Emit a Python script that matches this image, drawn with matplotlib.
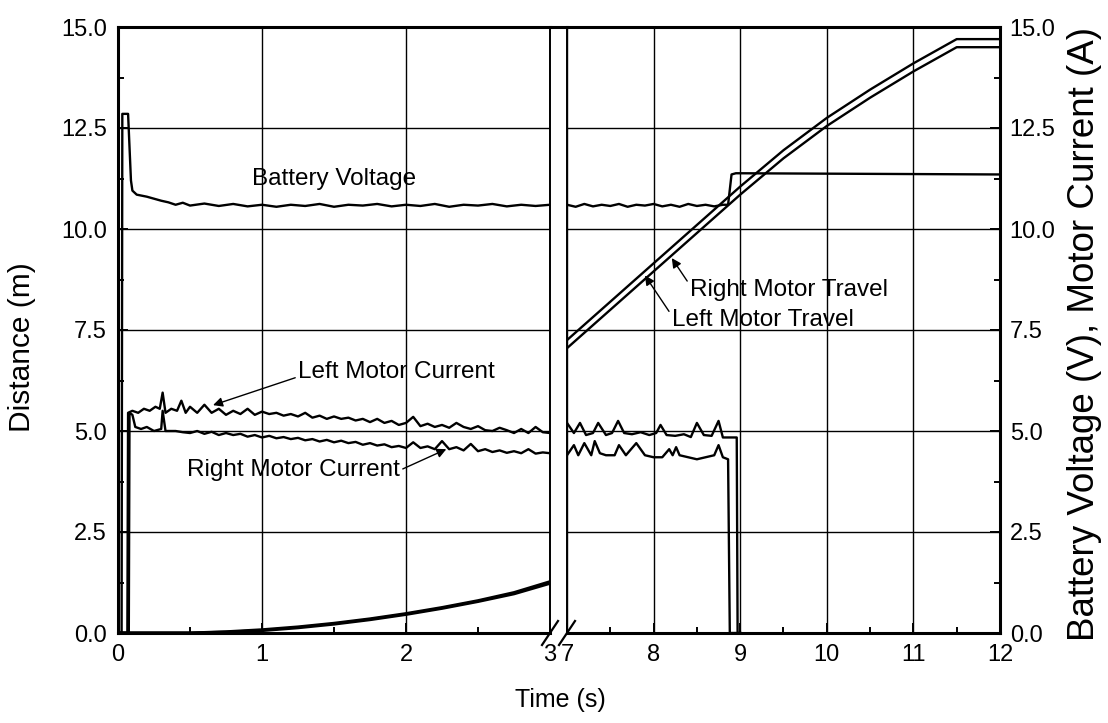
import matplotlib
matplotlib.use("Agg")
import matplotlib.pyplot as plt
from matplotlib.lines import Line2D

plt.rcParams['font.family'] = ['Liberation Sans', 'DejaVu Sans']

# ---- data (time in s) ----
# battery voltage, before the axis break
batt_t1 = [0.0, 0.025, 0.03, 0.07, 0.09, 0.1, 0.13, 0.2, 0.25, 0.3, 0.35, 0.4, 0.45, 0.5,
           0.6, 0.7, 0.8, 0.9, 1.0, 1.1, 1.2, 1.3, 1.4, 1.5, 1.6, 1.7, 1.8, 1.9, 2.0,
           2.1, 2.2, 2.3, 2.4, 2.5, 2.6, 2.7, 2.8, 2.9, 3.0]
batt_v1 = [0.0, 0.0, 12.85, 12.85, 11.2, 10.95, 10.85, 10.8, 10.75, 10.7, 10.66, 10.6, 10.65, 10.58,
           10.63, 10.57, 10.62, 10.56, 10.6, 10.55, 10.6, 10.57, 10.62, 10.55, 10.6, 10.58, 10.62, 10.56, 10.6,
           10.57, 10.62, 10.55, 10.6, 10.58, 10.62, 10.56, 10.6, 10.57, 10.6]
# battery voltage, after the break
batt_t2 = [7.0, 7.1, 7.2, 7.3, 7.4, 7.5, 7.6, 7.7, 7.8, 7.9, 8.0, 8.1, 8.2, 8.3, 8.4, 8.5,
           8.6, 8.7, 8.8, 8.86, 8.9, 8.95, 12.0]
batt_v2 = [10.6, 10.55, 10.62, 10.56, 10.6, 10.57, 10.62, 10.55, 10.6, 10.58, 10.62, 10.56, 10.6, 10.55, 10.62, 10.57,
           10.6, 10.56, 10.6, 10.6, 11.35, 11.38, 11.35]

# left motor current
lcur_t1 = [0.0, 0.065, 0.07, 0.1, 0.14, 0.18, 0.22, 0.26, 0.29, 0.31, 0.33, 0.37, 0.41, 0.44, 0.47,
           0.5, 0.55, 0.6, 0.65, 0.7, 0.75, 0.8, 0.85, 0.9, 0.95, 1.0, 1.05, 1.1, 1.15, 1.2, 1.25,
           1.3, 1.35, 1.4, 1.45, 1.5, 1.55, 1.6, 1.65, 1.7, 1.75, 1.8, 1.85, 1.9, 1.95, 2.0, 2.05,
           2.1, 2.15, 2.2, 2.25, 2.3, 2.35, 2.4, 2.45, 2.5, 2.55, 2.6, 2.65, 2.7, 2.75, 2.8, 2.85,
           2.9, 2.95, 3.0]
lcur_v1 = [0.0, 0.0, 5.45, 5.5, 5.45, 5.55, 5.5, 5.6, 5.55, 5.95, 5.45, 5.55, 5.5, 5.75, 5.45,
           5.6, 5.45, 5.65, 5.45, 5.55, 5.4, 5.5, 5.42, 5.55, 5.4, 5.48, 5.42, 5.45, 5.38, 5.42, 5.36,
           5.45, 5.33, 5.38, 5.3, 5.36, 5.3, 5.33, 5.26, 5.3, 5.22, 5.3, 5.2, 5.25, 5.15, 5.2, 5.35,
           5.12, 5.18, 5.1, 5.15, 5.08, 5.2, 5.1, 5.05, 5.12, 5.02, 5.0, 5.08, 5.02, 4.95, 5.05, 4.95,
           5.1, 4.97, 4.95]
lcur_t2 = [7.0, 7.08, 7.15, 7.22, 7.3, 7.36, 7.45, 7.52, 7.59, 7.66, 7.75, 7.85, 7.95, 8.03, 8.08,
           8.15, 8.25, 8.35, 8.43, 8.5, 8.58, 8.67, 8.75, 8.8, 8.85, 8.96, 8.97, 9.0]
lcur_v2 = [5.2, 4.95, 5.2, 4.9, 4.95, 5.2, 4.9, 4.95, 5.25, 4.95, 4.92, 4.97, 4.9, 4.95, 5.15,
           4.9, 4.88, 4.92, 4.85, 5.2, 4.9, 4.88, 5.25, 4.84, 4.84, 4.84, 0.0, 0.0]

# right motor current
rcur_t1 = [0.0, 0.075, 0.08, 0.1, 0.12, 0.16, 0.2, 0.25, 0.3, 0.31, 0.33, 0.4, 0.45,
           0.5, 0.55, 0.6, 0.65, 0.7, 0.75, 0.8, 0.85, 0.9, 0.95, 1.0, 1.05, 1.1, 1.15, 1.2, 1.25,
           1.3, 1.35, 1.4, 1.45, 1.5, 1.55, 1.6, 1.65, 1.7, 1.75, 1.8, 1.85, 1.9, 1.95, 2.0, 2.05,
           2.1, 2.15, 2.2, 2.25, 2.3, 2.35, 2.4, 2.45, 2.5, 2.55, 2.6, 2.65, 2.7, 2.75, 2.8, 2.85,
           2.9, 2.95, 3.0]
rcur_v1 = [0.0, 0.0, 5.45, 5.4, 5.1, 5.05, 5.1, 5.0, 5.05, 5.5, 5.0, 5.0, 4.97,
           4.95, 5.0, 4.93, 4.98, 4.9, 4.95, 4.9, 4.93, 4.86, 4.9, 4.84, 4.88, 4.82, 4.85, 4.8, 4.83,
           4.77, 4.8, 4.74, 4.78, 4.72, 4.76, 4.7, 4.73, 4.66, 4.7, 4.64, 4.67, 4.6, 4.63, 4.58, 4.72,
           4.58, 4.62, 4.55, 4.75, 4.55, 4.6, 4.52, 4.68, 4.5, 4.55, 4.48, 4.52, 4.46, 4.5, 4.45, 4.55,
           4.44, 4.47, 4.45]
rcur_t2 = [7.0, 7.08, 7.13, 7.2, 7.28, 7.32, 7.38, 7.45, 7.55, 7.6, 7.68, 7.8, 7.9, 8.0, 8.1,
           8.18, 8.22, 8.26, 8.3, 8.4, 8.5, 8.6, 8.7, 8.75, 8.8, 8.86, 8.88, 9.0]
rcur_v2 = [4.4, 4.65, 4.4, 4.7, 4.4, 4.75, 4.45, 4.4, 4.4, 4.65, 4.4, 4.7, 4.4, 4.35, 4.35,
           4.55, 4.4, 4.6, 4.4, 4.35, 4.3, 4.35, 4.4, 4.65, 4.35, 4.3, 0.0, 0.0]

# motor travel (distance)
trav_t1 = [0.0, 0.5, 0.75, 1.0, 1.25, 1.5, 1.75, 2.0, 2.25, 2.5, 2.75, 3.0]
ltrav_d1 = [0.0, 0.0, 0.03, 0.08, 0.15, 0.24, 0.35, 0.48, 0.63, 0.8, 1.0, 1.27]
rtrav_d1 = [0.0, 0.0, 0.02, 0.06, 0.13, 0.22, 0.33, 0.46, 0.61, 0.78, 0.97, 1.23]
trav_t2 = [7.0, 7.5, 8.0, 8.5, 9.0, 9.5, 10.0, 10.5, 11.0, 11.5, 12.0]
ltrav_d2 = [7.25, 8.2, 9.15, 10.1, 11.05, 11.95, 12.75, 13.45, 14.1, 14.7, 14.7]
rtrav_d2 = [7.05, 8.0, 8.95, 9.9, 10.85, 11.75, 12.55, 13.25, 13.9, 14.5, 14.5]

yticks = [0.0, 2.5, 5.0, 7.5, 10.0, 12.5, 15.0]
yminor = [1.25, 3.75, 6.25, 8.75, 11.25, 13.75]

W, H = 1108, 723
left, gap_l, gap_r, right = 118 / W, 550 / W, 567 / W, 1000 / W
bottom, top = 1 - 633 / H, 1 - 27 / H

fig = plt.figure(figsize=(W / 100, H / 100), dpi=100)
ax1 = fig.add_axes([left, bottom, gap_l - left, top - bottom])
ax2 = fig.add_axes([gap_r, bottom, right - gap_r, top - bottom])
ax2r = ax2.twinx()

lw = 1.7
ax1.plot(batt_t1, batt_v1, color='black', lw=lw)
ax1.plot(lcur_t1, lcur_v1, color='black', lw=lw)
ax1.plot(rcur_t1, rcur_v1, color='black', lw=lw)
ax1.plot(trav_t1, ltrav_d1, color='black', lw=2.2)
ax1.plot(trav_t1, rtrav_d1, color='black', lw=2.2)

ax2.plot(batt_t2, batt_v2, color='black', lw=lw)
ax2.plot(lcur_t2, lcur_v2, color='black', lw=lw)
ax2.plot(rcur_t2, rcur_v2, color='black', lw=lw)
ax2.plot(trav_t2, ltrav_d2, color='black', lw=lw)
ax2.plot(trav_t2, rtrav_d2, color='black', lw=lw)

ax1.set_xlim(0, 3)
ax2.set_xlim(7, 12)
ax1.set_xticks([0, 1, 2, 3])
ax1.set_xticks([0.5, 1.5, 2.5], minor=True)
ax2.set_xticks([7, 8, 9, 10, 11, 12])
ax2.set_xticks([7.5, 8.5, 9.5, 10.5, 11.5], minor=True)

for ax in (ax1, ax2, ax2r):
    ax.set_ylim(0, 15)
    ax.set_yticks(yticks)
    ax.set_yticks(yminor, minor=True)

ax1.set_yticklabels([f'{v:.1f}' for v in yticks])
ax2r.set_yticklabels([f'{v:.1f}' for v in yticks])

for ax in (ax1, ax2):
    ax.grid(True, which='major', color='black', lw=1.0)
    ax.tick_params(which='both', direction='in', labelsize=17, width=1.4)
    ax.tick_params(which='major', length=7, pad=8)
    ax.tick_params(which='minor', length=4)
    for s in ax.spines.values():
        s.set_linewidth(2.2)
ax1.tick_params(which='both', right=False, top=False)
ax1.spines['right'].set_linewidth(1.4)
ax2.tick_params(which='both', left=False, right=False, top=False, labelleft=False)
ax2.spines['left'].set_linewidth(1.4)
ax2r.tick_params(which='both', direction='in', labelsize=17, width=1.4, pad=7)
ax2r.tick_params(which='major', length=7)
ax2r.tick_params(which='minor', length=4)
for s in ax2r.spines.values():
    s.set_visible(False)

# top frame continues across the gap
fig.add_artist(Line2D([gap_l, gap_r], [top, top], transform=fig.transFigure, color='black', lw=2.2))

# break marks on the time axis
for ax, xa in ((ax1, 1.0), (ax2, 0.0)):
    dx = 8 / (ax.get_position().width * W)
    dy = 12 / ((top - bottom) * H)
    ax.plot([xa - dx, xa + dx], [-dy, dy], transform=ax.transAxes, color='black', lw=1.6, clip_on=False)

arrow = dict(arrowstyle='-|>', color='black', lw=1.0, mutation_scale=14, shrinkA=0, shrinkB=0)
ax1.text(1.5, 11.25, 'Battery Voltage', fontsize=17.5, ha='center', va='center')
ax1.annotate('Left Motor Current', xy=(0.66, 5.64), xytext=(1.25, 6.45), fontsize=17.5,
             ha='left', va='center', arrowprops=dict(arrow, relpos=(0, 0.3)))
ax1.annotate('Right Motor Current', xy=(2.28, 4.55), xytext=(0.48, 4.03), fontsize=17.5,
             ha='left', va='center', arrowprops=dict(arrow, relpos=(1, 0.5)))
ax2.annotate('Right Motor Travel', xy=(8.21, 9.28), xytext=(8.42, 8.5), fontsize=17.5,
             ha='left', va='center', arrowprops=dict(arrow, relpos=(0, 0.7)))
ax2.annotate('Left Motor Travel', xy=(7.9, 8.85), xytext=(8.21, 7.75), fontsize=17.5,
             ha='left', va='center', arrowprops=dict(arrow, relpos=(0, 0.7)))

fig.text(22 / W, 1 - 347 / H, 'Distance (m)', rotation=90, ha='center', va='center', fontsize=21.5)
fig.text(1084 / W, 1 - 334 / H, 'Battery Voltage (V), Motor Current (A)', rotation=90,
         ha='center', va='center', fontsize=26.5)
fig.text(560 / W, 1 - 700 / H, 'Time (s)', ha='center', va='center', fontsize=18)

fig.savefig('out.png', dpi=100)
